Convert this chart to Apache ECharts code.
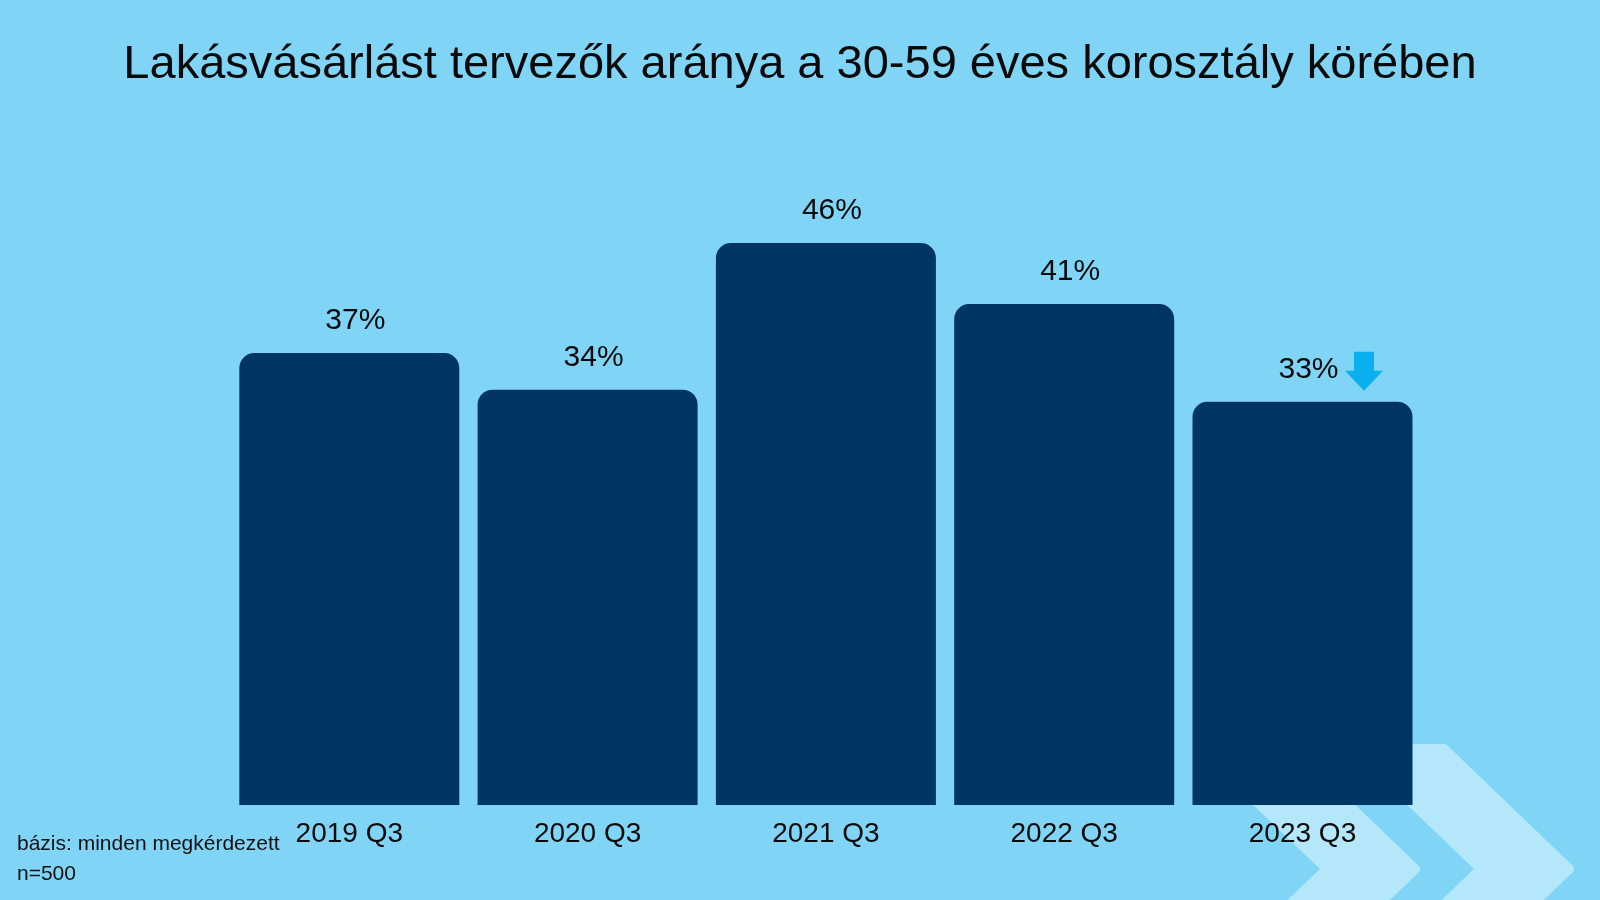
<!DOCTYPE html>
<html>
<head>
<meta charset="utf-8">
<script src="https://cdn.jsdelivr.net/npm/echarts@6/dist/echarts.min.js"></script>
<style>
  html, body { margin: 0; padding: 0; background: #80D5F7; }
  #chart { width: 1600px; height: 900px; }
</style>
</head>
<body>
<div id="chart"></div>
<script>
const titleText = 'Lakásvásárlást tervezők aránya a 30-59 éves korosztály körében';
const categories = ['2019 Q3', '2020 Q3', '2021 Q3', '2022 Q3', '2023 Q3'];
const values = [37, 34, 46, 41, 33];
const footnoteLines = ['bázis: minden megkérdezett', 'n=500'];
const arrowCategory = '2023 Q3';
const arrowValue = 33;

const FONT = '"Liberation Sans", Arial, Helvetica, sans-serif';
const BG = '#80D5F7';
const BAR = '#003564';
const LIGHT = '#B3E7F9';
const ARROW = '#0AAFEE';

const chart = echarts.init(document.getElementById('chart'), null, { renderer: 'canvas' });

function chevron(dx) {
  return {
    type: 'polygon',
    z: 0,
    silent: true,
    shape: {
      points: [
        [1202 + dx, 749], [1290 + dx, 749], [1415 + dx, 869],
        [1290 + dx, 989], [1202 + dx, 989], [1327 + dx, 869]
      ]
    },
    style: { fill: LIGHT, stroke: LIGHT, lineWidth: 10, lineJoin: 'round' }
  };
}

const option = {
  backgroundColor: BG,
  animation: false,
  title: {
    text: titleText,
    left: 'center',
    top: 42,
    padding: 0,
    textStyle: { fontFamily: FONT, fontSize: 47, fontWeight: 'normal', color: '#0a0a0a', lineHeight: 47 }
  },
  graphic: [
    chevron(0),
    chevron(154),
    {
      type: 'text',
      left: 17,
      top: 829,
      silent: true,
      style: {
        text: footnoteLines.join('\n'),
        font: '21px ' + FONT,
        fill: '#111',
        lineHeight: 30
      }
    }
  ],
  grid: { left: 230.15, right: 178.35, top: 72, bottom: 95, containLabel: false },
  xAxis: {
    type: 'category',
    data: categories,
    axisLine: { show: false },
    axisTick: { show: false },
    axisLabel: { margin: 15, fontFamily: FONT, fontSize: 28, color: '#0a0a0a' }
  },
  yAxis: {
    type: 'value',
    min: 0,
    max: 60,
    show: false,
    splitLine: { show: false }
  },
  series: [{
    type: 'bar',
    data: values,
    barWidth: 220,
    z: 2,
    itemStyle: { color: BAR, borderRadius: [15, 15, 0, 0] },
    label: {
      show: true,
      position: 'top',
      distance: 17,
      offset: [6, 0],
      formatter: '{c}%',
      fontFamily: FONT,
      fontSize: 30,
      color: '#0a0a0a'
    },
    markPoint: {
      silent: true,
      label: { show: false },
      data: [{
        coord: [arrowCategory, arrowValue],
        symbol: 'path://M9,0 L29,0 L29,19 L38,19 L19,39 L0,19 L9,19 Z',
        symbolSize: [38, 39],
        symbolOffset: [61.5, -30.5],
        itemStyle: { color: ARROW }
      }]
    }
  }]
};

chart.setOption(option);
</script>
</body>
</html>
